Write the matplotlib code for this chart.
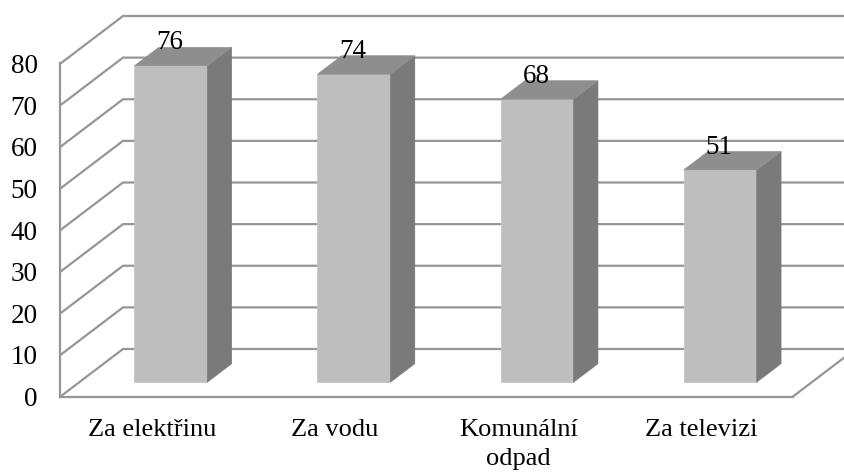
import matplotlib
matplotlib.use("Agg")
import matplotlib.pyplot as plt

categories = ["Za elektřinu", "Za vodu", "Komunální\nodpad", "Za televizi"]
values = [76, 74, 68, 51]
y_ticks = [0, 10, 20, 30, 40, 50, 60, 70, 80]

W, H = 845, 472
LEFT, RIGHT, BOTTOM, TOP = 60.5, 793, 396.5, 63.5
DEPTH_DX, DEPTH_DY = 62.5, 47.5
FRONT_D, BACK_D = 0.30, 0.69
BAR_W = 0.399
GRID = "#969696"
LW = 1.6

plt.rcParams["font.family"] = ["Liberation Serif", "DejaVu Serif"]
fig = plt.figure(figsize=(W / 100, H / 100), dpi=100)
ax = fig.add_axes([LEFT / W, 1 - BOTTOM / H, (RIGHT - LEFT) / W, (BOTTOM - TOP) / H])
ax.set_xlim(0, len(categories))
ax.set_ylim(0, 80)
ax.patch.set_alpha(0)

sx = (RIGHT - LEFT) / len(categories)
sy = (BOTTOM - TOP) / 80
def P(x, v, d):
    return x + d * DEPTH_DX / sx, v + d * DEPTH_DY / sy

# wall gridlines and floor
for v in y_ticks:
    a, b, c = P(0, v, 0), P(0, v, 1), P(len(categories), v, 1)
    ax.plot([a[0], b[0], c[0]], [a[1], b[1], c[1]], color=GRID, lw=LW,
            clip_on=False, zorder=1, solid_joinstyle="miter")
a, b = P(len(categories), 0, 0), P(len(categories), 0, 1)
ax.plot([a[0], b[0]], [a[1], b[1]], color=GRID, lw=LW, clip_on=False, zorder=1)

# bars
for i, v in enumerate(values):
    xl = i + 0.5 - BAR_W / 2
    xr = i + 0.5 + BAR_W / 2
    p0 = P(xl, 0, FRONT_D)
    p1 = P(xr, 0, FRONT_D)
    ax.bar(p0[0], v, width=p1[0] - p0[0], bottom=p0[1], align="edge",
           color="#BEBEBE", edgecolor="#C6C6C6", lw=0.6, clip_on=False, zorder=3)
    side = [P(xr, 0, FRONT_D), P(xr, 0, BACK_D), P(xr, v, BACK_D), P(xr, v, FRONT_D)]
    ax.fill(*zip(*side), color="#7A7A7A", lw=0.4, clip_on=False, zorder=3)
    top = [P(xl, v, FRONT_D), P(xr, v, FRONT_D), P(xr, v, BACK_D), P(xl, v, BACK_D)]
    ax.fill(*zip(*top), color="#8E8E8E", lw=0.4, clip_on=False, zorder=3)
    cx, cy = P(i + 0.5, v, FRONT_D)
    ax.annotate(str(v), (cx, cy), xytext=(-0.7, 16.5), textcoords="offset points",
                ha="center", va="center", fontsize=19.5, color="black",
                annotation_clip=False, zorder=5)

for s in ["top", "right"]:
    ax.spines[s].set_visible(False)
for s in ["left", "bottom"]:
    ax.spines[s].set_color(GRID)
    ax.spines[s].set_linewidth(LW)
    ax.spines[s].set_zorder(2)

ax.set_yticks(y_ticks)
ax.set_yticklabels([str(v) for v in y_ticks], fontsize=19.5)
ax.tick_params(axis="y", length=0, pad=16.5)
ax.set_xticks([i + 0.5 for i in range(len(categories))])
ax.set_xticklabels(categories, fontsize=19, linespacing=1.38)
ax.tick_params(axis="x", length=0, pad=16.5)

fig.savefig("out.png", dpi=100)
